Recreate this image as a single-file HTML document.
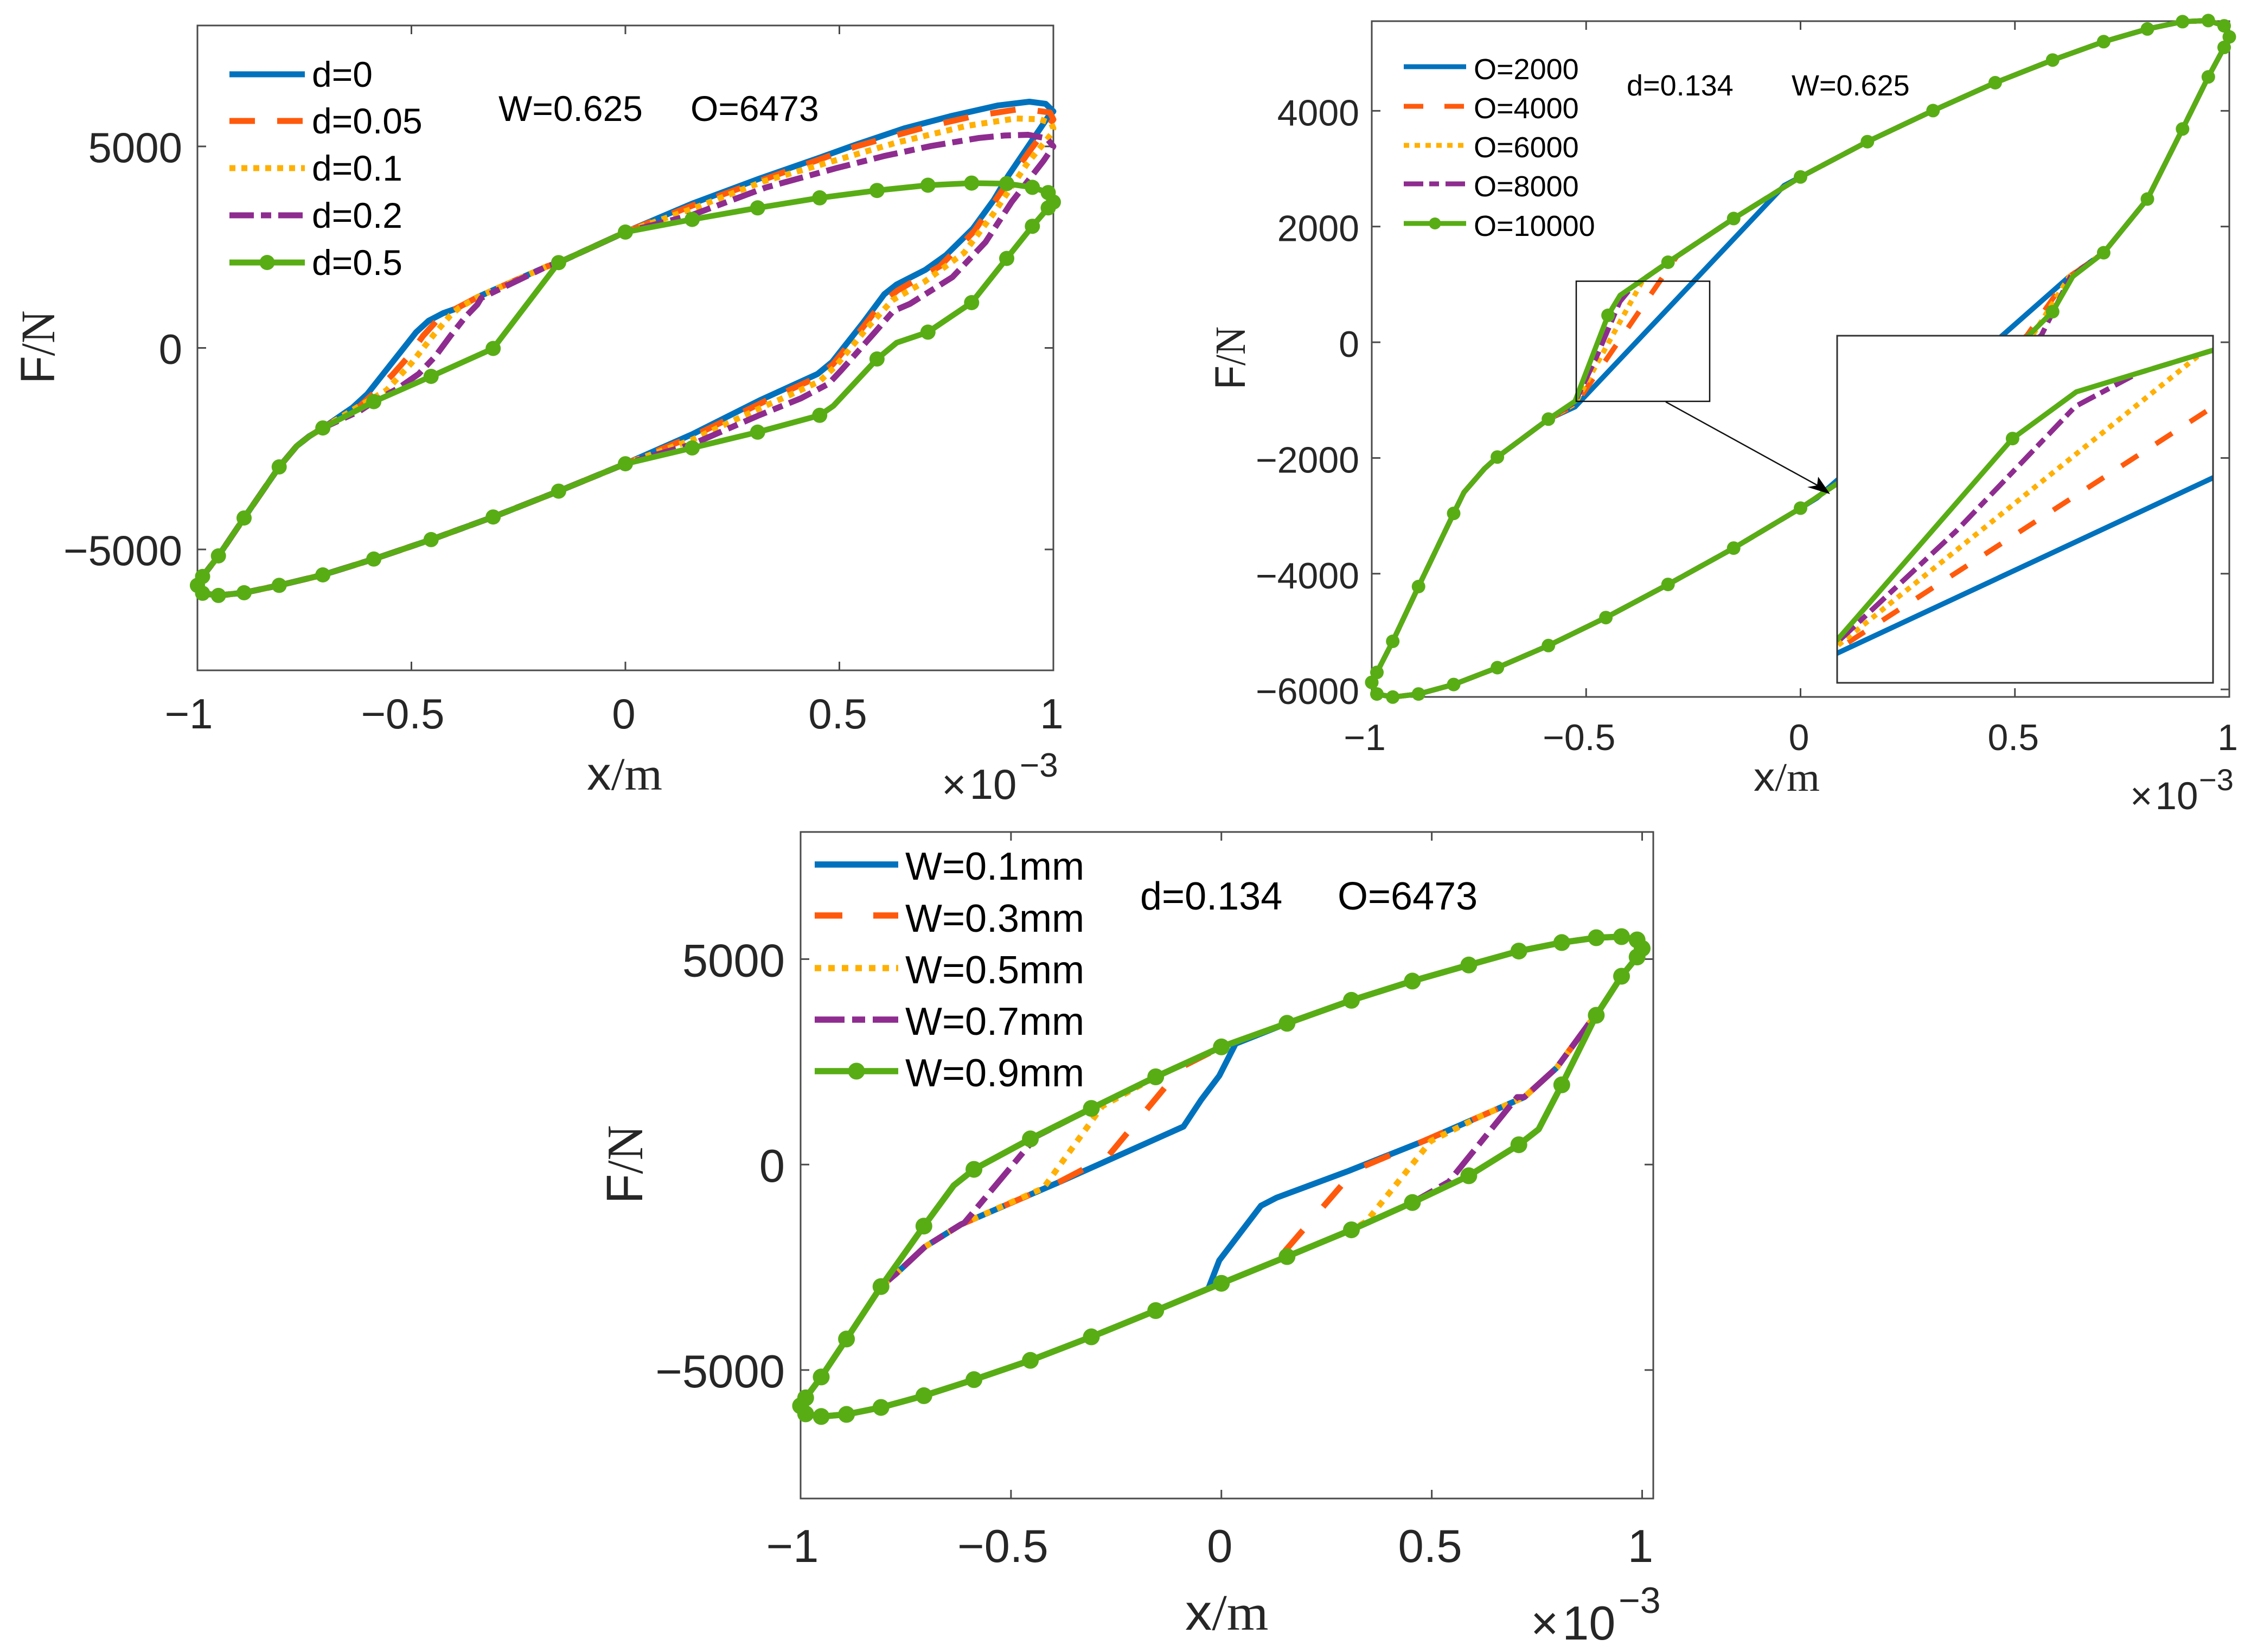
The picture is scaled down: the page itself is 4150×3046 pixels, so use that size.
<!DOCTYPE html>
<html>
<head>
<meta charset="utf-8">
<title>Hysteresis curves F/N vs x/m</title>
<style>
html,body{margin:0;padding:0;background:#fff}
svg{display:block}
text{font-family:"Liberation Sans",sans-serif}
.s{font-family:"Liberation Serif",serif}
</style>
</head>
<body>
<svg id="fig" xmlns="http://www.w3.org/2000/svg" width="4150" height="3046" viewBox="0 0 4150 3046">
<rect width="4150" height="3046" fill="#fff"/>
<g id="chartA"></g>
<g id="chartB"></g>
<g id="chartC"></g>

<g fill="#262626">
  <text transform="translate(1082,1456) scale(1.04,1)" font-size="86">x<tspan class="s">/m</tspan></text>
  <text transform="translate(100,640) rotate(-90) scale(1,1.06)" font-size="84" text-anchor="middle">F<tspan class="s">/N</tspan></text>
  <text x="1736" y="1473" font-size="78">×<tspan dx="6">10</tspan></text>
  <text x="1880" y="1432" font-size="62">−3</text>
</g>
<g fill="#000">
  <text x="919" y="223" font-size="66">W=0.625</text>
  <text x="1273" y="223" font-size="66">O=6473</text>
</g>
<g fill="#000" font-size="66">
  <text x="575" y="160">d=0</text>
  <text x="575" y="246">d=0.05</text>
  <text x="575" y="333">d=0.1</text>
  <text x="575" y="420">d=0.2</text>
  <text x="575" y="507">d=0.5</text>
</g>

<g fill="#262626">
  <text transform="translate(3233,1458) scale(1.06,1)" font-size="74">x<tspan class="s">/m</tspan></text>
  <text transform="translate(2295,660) rotate(-90) scale(1,1.1)" font-size="72" text-anchor="middle">F<tspan class="s">/N</tspan></text>
  <text x="3927" y="1492" font-size="71">×<tspan dx="5">10</tspan></text>
  <text x="4054" y="1457" font-size="56">−3</text>
</g>
<g fill="#000">
  <text x="2999" y="176" font-size="54">d=0.134</text>
  <text x="3303" y="176" font-size="54">W=0.625</text>
</g>
<g fill="#000" font-size="54">
  <text x="2717" y="146">O=2000</text>
  <text x="2717" y="218">O=4000</text>
  <text x="2717" y="290">O=6000</text>
  <text x="2717" y="362">O=8000</text>
  <text x="2717" y="435">O=10000</text>
</g>

<g fill="#262626">
  <text transform="translate(2185,3005) scale(1.05,1)" font-size="94">x<tspan class="s">/m</tspan></text>
  <text transform="translate(1184,2147) rotate(-90) scale(1,1.05)" font-size="90" text-anchor="middle">F<tspan class="s">/N</tspan></text>
  <text x="2822" y="3023" font-size="88">×<tspan dx="7">10</tspan></text>
  <text x="2984" y="2974" font-size="68">−3</text>
</g>
<g fill="#000">
  <text x="2102" y="1677" font-size="72">d=0.134</text>
  <text x="2466" y="1677" font-size="72">O=6473</text>
</g>
<g fill="#000" font-size="72">
  <text x="1669" y="1622">W=0.1mm</text>
  <text x="1669" y="1718">W=0.3mm</text>
  <text x="1669" y="1813">W=0.5mm</text>
  <text x="1669" y="1908">W=0.7mm</text>
  <text x="1669" y="2003">W=0.9mm</text>
</g>
</svg>

<script>
/* ---------- shared tick values ---------- */
const xTicks = [-1, -0.5, 0, 0.5, 1];
const xTickLabels = ["−1", "−0.5", "0", "0.5", "1"];
const yTicksAC = [-5000, 0, 5000];
const yTickLabelsAC = ["−5000", "0", "5000"];
const yTicksB = [-6000, -4000, -2000, 0, 2000, 4000];
const yTickLabelsB = ["−6000", "−4000", "−2000", "0", "2000", "4000"];

/* ---------- chart A: d sweep ---------- */
const xA_d5 = [-1,-0.988,-0.951,-0.891,-0.809,-0.768,-0.739,-0.707,-0.588,-0.454,-0.309,-0.156,0,0.156,0.309,0.454,0.588,0.707,0.809,0.891,0.951,0.988,1,0.988,0.951,0.891,0.809,0.707,0.634,0.588,0.486,0.454,0.309,0.156,0,-0.156,-0.309,-0.454,-0.588,-0.707,-0.809,-0.891,-0.951,-0.988,-1];
const yA_d5 = [-5892,-5670,-5161,-4220,-2953,-2436,-2194,-1986,-1333,-706,-13,2117,2874,3188,3475,3724,3906,4037,4089,4076,3985,3854,3619,3475,3018,2221,1124,392,130,-274,-1437,-1672,-2090,-2482,-2874,-3554,-4194,-4756,-5239,-5631,-5892,-6075,-6141,-6088,-5892];
const bendsA = [5, 6, 28, 30];

const xA_d0 = [...xA_d5.slice(0,8), -0.6375,-0.603,-0.561,-0.523,-0.489,-0.46,-0.426,-0.397,-0.342,-0.184, ...xA_d5.slice(11,13), 0.156,0.313,0.454,0.536,0.653,0.759,0.871,0.944,0.982,1,0.987,0.895,0.861,0.812,0.749,0.701,0.634,0.605,0.555,0.483,0.449,0.313,0.156, ...xA_d5.slice(34)];
const yA_d0 = [...yA_d5.slice(0,8), -1480,-1144,-579,-68,390,673,861,969,1279,2019, ...yA_d5.slice(11,13), 3580,4200,4720,5034,5451,5747,6016,6110,6057,5868,5720,4280,3674,2961,2301,1938,1575,1332,619,-350,-646,-1305,-2143, ...yA_d5.slice(34)];

const xA_d05 = [...xA_d5.slice(0,8), -0.62,-0.59,-0.545,-0.507,-0.473,-0.435,-0.397,-0.342,-0.184, ...xA_d5.slice(11,13), 0.156,0.374,0.539,0.701,0.812,0.926,0.992,1,0.944,0.881,0.815,0.735,0.636,0.597,0.558,0.485,0.446,0.34,0.156, ...xA_d5.slice(34)];
const yA_d05 = [...yA_d5.slice(0,8), -1440,-1144,-673,-215,296,740,969,1279,2019, ...yA_d5.slice(11,13), 3530,4374,5000,5478,5747,5935,5841,5666,4879,3917,2894,2026,1427,1090,552,-404,-740,-1252,-2200, ...yA_d5.slice(34)];

const xA_d1 = [...xA_d5.slice(0,8), -0.62,-0.558,-0.5,-0.447,-0.409,-0.388,-0.342,-0.184, ...xA_d5.slice(11,13), 0.156,0.323,0.466,0.631,0.798,0.913,0.968,0.995,1,0.995,0.939,0.859,0.791,0.698,0.624,0.565,0.4925,0.454,0.374,0.323,0.156, ...xA_d5.slice(34)];
const yA_d1 = [...yA_d5.slice(0,8), -1430,-1050,-377,336,808,996,1279,2019, ...yA_d5.slice(11,13), 3450,4132,4576,5087,5510,5693,5673,5572,5450,5303,4576,3318,2355,1635,1184,498,-437,-828,-1218,-1454,-2280, ...yA_d5.slice(34)];

const xA_d2 = [...xA_d5.slice(0,8), -0.62,-0.588,-0.532,-0.483,-0.4436,-0.409,-0.374,-0.346,-0.337,-0.184, ...xA_d5.slice(11,13), 0.156,0.3276,0.4925,0.604,0.7156,0.827,0.8855,0.941,0.985,1,0.977,0.9024,0.8415,0.764,0.665,0.626,0.582,0.504,0.475,0.41,0.313,0.156, ...xA_d5.slice(34)];
const yA_d2 = [...yA_d5.slice(0,8), -1560,-1333,-1009,-646,-202,296,767,1077,1238,2019, ...yA_d5.slice(11,13), 3300,3979,4459,4759,5012,5210,5270,5289,5198,5000,4643,3620,2624,1755,1094,915,377,-558,-888,-1252,-1669,-2390, ...yA_d5.slice(34)];

/* ---------- chart B: O sweep ---------- */
const xB_10000 = [-1,-0.988,-0.951,-0.891,-0.809,-0.785,-0.737,-0.707,-0.588,-0.526,-0.449,-0.421,-0.309,-0.156,0,0.156,0.309,0.454,0.588,0.707,0.809,0.891,0.951,0.988,1,0.988,0.951,0.891,0.809,0.707,0.635,0.588,0.454,0.309,0.156,0,-0.156,-0.309,-0.454,-0.588,-0.707,-0.809,-0.891,-0.951,-0.988,-1];
const yB_10000 = [-5879,-5706,-5169,-4222,-2958,-2594,-2184,-1984,-1329,-1019,466,810,1383,2139,2857,3467,4004,4486,4878,5196,5415,5542,5560,5469,5278,5096,4586,3686,2475,1547,1137,528,-455,-1274,-2093,-2867,-3558,-4186,-4759,-5242,-5624,-5915,-6079,-6133,-6079,-5879];
const bendsB = [5, 6, 9, 11, 30];

const xB_2000 = [...xB_10000.slice(0,9), -0.526,-0.0377, ...xB_10000.slice(14,30), 0.627,0.471,0.0377, ...xB_10000.slice(35)];
const yB_2000 = [...yB_10000.slice(0,9), -1117,2712, ...yB_10000.slice(14,30), 1137,118,-2694, ...yB_10000.slice(35)];

const xB_4000 = [...xB_10000.slice(0,9), -0.526,-0.2887, ...xB_10000.slice(13,30), 0.622,0.528, ...xB_10000.slice(34)];
const yB_4000 = [...yB_10000.slice(0,9), -1090,1483, ...yB_10000.slice(13,30), 1110,118, ...yB_10000.slice(34)];

const xB_6000 = [...xB_10000.slice(0,9), -0.526,-0.3665, ...xB_10000.slice(12,30), 0.627,0.541, ...xB_10000.slice(34)];
const yB_6000 = [...yB_10000.slice(0,9), -1064,1089, ...yB_10000.slice(12,30), 1137,118, ...yB_10000.slice(34)];

const xB_8000 = [...xB_10000.slice(0,9), -0.526,-0.4738,-0.4214,-0.394, ...xB_10000.slice(12,30), 0.63,0.5615, ...xB_10000.slice(34)];
const yB_8000 = [...yB_10000.slice(0,9), -1037,-217,703,948, ...yB_10000.slice(12,30), 1137,118, ...yB_10000.slice(34)];

/* ---------- chart C: W sweep ---------- */
const xC_9 = [-1,-0.988,-0.951,-0.891,-0.809,-0.707,-0.636,-0.588,-0.454,-0.309,-0.156,0,0.156,0.309,0.454,0.588,0.707,0.809,0.891,0.951,0.988,1,0.988,0.951,0.891,0.809,0.754,0.707,0.588,0.454,0.309,0.156,0,-0.156,-0.309,-0.454,-0.588,-0.707,-0.809,-0.891,-0.951,-0.988,-1];
const yC_9 = [-5872,-5677,-5169,-4245,-2969,-1497,-508,-117,625,1367,2135,2864,3437,3997,4466,4856,5195,5403,5520,5547,5468,5260,5052,4583,3633,1940,859,482,-273,-924,-1588,-2239,-2890,-3554,-4192,-4765,-5234,-5625,-5911,-6080,-6132,-6067,-5872];
const bendsC = [6, 26];

const xC_1 = [...xC_9.slice(0,5), -0.773,-0.705,-0.619,-0.389,-0.09,-0.048,-0.005,0.034, ...xC_9.slice(12,25), 0.874,0.797,0.72,0.618,0.481,0.302,0.131,0.094,-0.005,-0.031, ...xC_9.slice(33)];
const yC_1 = [...yC_9.slice(0,5), -2656,-2005,-1458,-443,924,1575,2161,2943, ...yC_9.slice(12,25), 3437,2357,1641,1185,573,-156,-807,-1003,-2331,-3020, ...yC_9.slice(33)];

const xC_3 = [...xC_9.slice(0,5), -0.773,-0.705,-0.619,-0.389,-0.27,-0.108,-0.09, ...xC_9.slice(11,25), 0.874,0.797,0.72,0.618,0.481,0.336,0.302,0.131, ...xC_9.slice(32)];
const yC_3 = [...yC_9.slice(0,5), -2656,-2005,-1458,-443,195,2200,2396, ...yC_9.slice(11,25), 3437,2357,1641,1185,573,-52,-312,-2343, ...yC_9.slice(32)];

const xC_5 = [...xC_9.slice(0,5), -0.773,-0.705,-0.619,-0.423,-0.295,-0.283, ...xC_9.slice(10,25), 0.874,0.797,0.72,0.618,0.498,0.345,0.328, ...xC_9.slice(30)];
const yC_5 = [...yC_9.slice(0,5), -2656,-2005,-1458,-573,1250,1419, ...yC_9.slice(10,25), 3437,2357,1641,1185,573,-1380,-1484, ...yC_9.slice(30)];

const xC_7 = [...xC_9.slice(0,5), -0.773,-0.705,-0.619,-0.611,-0.457,-0.449, ...xC_9.slice(9,25), 0.874,0.797,0.72,0.703,0.549,0.541, ...xC_9.slice(29)];
const yC_7 = [...yC_9.slice(0,5), -2656,-2005,-1458,-1419,469,638, ...yC_9.slice(9,25), 3437,2357,1641,1641,-312,-417, ...yC_9.slice(29)];

/* ---------- drawing ---------- */
const NS = "http://www.w3.org/2000/svg";
const COL = {blue:"#0072BD", orange:"#FF5A0C", yellow:"#FFB000", purple:"#8E2C90", green:"#58AD15"};

function el(parent, tag, attrs) {
  const e = document.createElementNS(NS, tag);
  for (const k in attrs) e.setAttribute(k, attrs[k]);
  parent.appendChild(e);
  return e;
}

function makeScale(d0, d1, p0, p1) {
  return v => p0 + (v - d0) / (d1 - d0) * (p1 - p0);
}

function drawSeries(parent, xs, ys, sx, sy, color, width, dash, name, bends, markerR) {
  const pts = xs.map((v, i) => sx(v).toFixed(1) + "," + sy(ys[i]).toFixed(1)).join(" ");
  const line = el(parent, "polyline", {points: pts, fill: "none", stroke: color, "stroke-width": width, "stroke-linejoin": "round"});
  
  
  if (dash) line.setAttribute("stroke-dasharray", dash);
  if (markerR) {
    xs.forEach((v, i) => {
      if (bends.includes(i)) return;
      const c = el(parent, "circle", {cx: sx(v).toFixed(1), cy: sy(ys[i]).toFixed(1), r: markerR, fill: color});
      
      
    });
  }
}

function drawAxes(g, box, sx, sy, yTicks, yLabels, opt) {
  const ax = "#4a4a4a";
  yTicks.forEach((v, i) => {
    const y = sy(v);
    const t1 = el(g, "line", {x1: box.l, x2: box.l + 16, y1: y, y2: y, stroke: ax, "stroke-width": 3});
    
    
    const t2 = el(g, "line", {x1: box.r, x2: box.r - 16, y1: y, y2: y, stroke: ax, "stroke-width": 3});
    
    
    const tx = el(g, "text", {x: opt.yRight, y: y + opt.yBase, "font-size": opt.size, "text-anchor": "end", fill: "#262626"});
    tx.textContent = yLabels[i];
    
    
  });
  xTicks.forEach((v, i) => {
    const x = sx(v);
    const t1 = el(g, "line", {x1: x, x2: x, y1: box.b, y2: box.b - 16, stroke: ax, "stroke-width": 3});
    
    
    const t2 = el(g, "line", {x1: x, x2: x, y1: box.t, y2: box.t + 16, stroke: ax, "stroke-width": 3});
    
    
    const shift = v < 0 ? opt.negShift : -3;
    const tx = el(g, "text", {x: x + shift, y: opt.xBase, "font-size": opt.size, "text-anchor": "middle", fill: "#262626"});
    tx.textContent = xTickLabels[i];
    
    
  });
  const r = el(g, "rect", {x: box.l, y: box.t, width: box.r - box.l, height: box.b - box.t, fill: "none", stroke: ax, "stroke-width": 3});
  
  
}

function drawLegend(g, x0, x1, ys, styles, width, markerR, names) {
  styles.forEach((s, i) => {
    const l = el(g, "line", {x1: x0, x2: x1, y1: ys[i], y2: ys[i], stroke: s.color, "stroke-width": width});
    if (s.dash) l.setAttribute("stroke-dasharray", s.dash);
    
    
    if (s.marker) {
      const c = el(g, "circle", {cx: (x0 + x1) / 2, cy: ys[i], r: markerR, fill: s.color});
      
      
    }
  });
}

/* chart A */
(function () {
  const g = document.getElementById("chartA");
  const box = {l: 364, r: 1942, t: 47, b: 1236};
  const sx = makeScale(-1, 1, box.l, box.r), sy = makeScale(-8000, 8000, box.b, box.t);
  drawAxes(g, box, sx, sy, yTicksAC, yTickLabelsAC, {yRight: 336, yBase: 29, size: 78, xBase: 1343, negShift: -16});
  const d = {o: "47 41", y: "11 11", p: "45 13 19 13"};
  drawSeries(g, xA_d0, yA_d0, sx, sy, COL.blue, 11, null, "series-d-0", [], 0);
  drawSeries(g, xA_d05, yA_d05, sx, sy, COL.orange, 11, d.o, "series-d-0.05", [], 0);
  drawSeries(g, xA_d1, yA_d1, sx, sy, COL.yellow, 11, d.y, "series-d-0.1", [], 0);
  drawSeries(g, xA_d2, yA_d2, sx, sy, COL.purple, 11, d.p, "series-d-0.2", [], 0);
  drawSeries(g, xA_d5, yA_d5, sx, sy, COL.green, 10.5, null, "series-d-0.5", bendsA, 14);
  drawLegend(g, 423, 562, [137, 223, 310, 397, 484], [
    {color: COL.blue}, {color: COL.orange, dash: d.o}, {color: COL.yellow, dash: d.y},
    {color: COL.purple, dash: d.p}, {color: COL.green, marker: true}], 11, 14, ["d0", "d005", "d01", "d02", "d05"]);
})();

/* chart B */
(function () {
  const g = document.getElementById("chartB");
  const box = {l: 2529, r: 4110, t: 39, b: 1285};
  const sx = makeScale(-1, 1, box.l, box.r), sy = makeScale(-6130, 5550, box.b, box.t);
  drawAxes(g, box, sx, sy, yTicksB, yTickLabelsB, {yRight: 2506, yBase: 27, size: 68, xBase: 1383, negShift: -13});
  const d = {o: "36 39", y: "10 10", p: "36 11 18 12"};
  drawSeries(g, xB_2000, yB_2000, sx, sy, COL.blue, 9.5, null, "series-o-2000", [], 0);
  drawSeries(g, xB_4000, yB_4000, sx, sy, COL.orange, 9.5, d.o, "series-o-4000", [], 0);
  drawSeries(g, xB_6000, yB_6000, sx, sy, COL.yellow, 9.5, d.y, "series-o-6000", [], 0);
  drawSeries(g, xB_8000, yB_8000, sx, sy, COL.purple, 9.5, d.p, "series-o-8000", [], 0);
  drawSeries(g, xB_10000, yB_10000, sx, sy, COL.green, 9.5, null, "series-o-10000", bendsB, 12.5);
  drawLegend(g, 2588, 2703, [123, 196, 268, 339, 412], [
    {color: COL.blue}, {color: COL.orange, dash: "36 39"}, {color: COL.yellow, dash: d.y},
    {color: COL.purple, dash: d.p}, {color: COL.green, marker: true}], 9, 11, ["o2000", "o4000", "o6000", "o8000", "o10000"]);

  /* source box and leader */
  const src = el(g, "rect", {x: 2906, y: 518.5, width: 246, height: 221.5, fill: "none", stroke: "#111", "stroke-width": 2.5});
  
  
  const lead = el(g, "line", {x1: 3071, y1: 741, x2: 3360, y2: 900, stroke: "#111", "stroke-width": 2.5});
  
  
  const head = el(g, "polygon", {points: "3374,911 3332,898 3350,895 3352,879", fill: "#000"});
  
  

  /* inset */
  const ib = {l: 3387, r: 4080, t: 619, b: 1259};
  const bg = el(g, "rect", {x: ib.l, y: ib.t, width: ib.r - ib.l, height: ib.b - ib.t, fill: "#fff"});
  
  
  const defs = el(g, "defs", {});
  const cp = el(defs, "clipPath", {id: "insetClip"});
  el(cp, "rect", {x: ib.l, y: ib.t, width: ib.r - ib.l, height: ib.b - ib.t});
  const ig = el(g, "g", {"clip-path": "url(#insetClip)"});
  
  
  const isx = makeScale(-0.526, -0.361, ib.l, ib.r), isy = makeScale(-1335, 1224, ib.b, ib.t);
  drawSeries(ig, xB_2000, yB_2000, isx, isy, COL.blue, 9.5, null, "inset-series-o-2000", [], 0);
  drawSeries(ig, xB_4000, yB_4000, isx, isy, COL.orange, 9.5, d.o, "inset-series-o-4000", [], 0);
  drawSeries(ig, xB_6000, yB_6000, isx, isy, COL.yellow, 9.5, d.y, "inset-series-o-6000", [], 0);
  drawSeries(ig, xB_8000, yB_8000, isx, isy, COL.purple, 9.5, d.p, "inset-series-o-8000", [], 0);
  drawSeries(ig, xB_10000, yB_10000, isx, isy, COL.green, 9.5, null, "inset-series-o-10000", bendsB, 12.5);
  const ibr = el(g, "rect", {x: ib.l, y: ib.t, width: ib.r - ib.l, height: ib.b - ib.t, fill: "none", stroke: "#333", "stroke-width": 3});
  
  
})();

/* chart C */
(function () {
  const g = document.getElementById("chartC");
  const box = {l: 1476, r: 3048, t: 1534, b: 2763};
  const sx = makeScale(-1, 1, box.l, 3027.5), sy = makeScale(-8127, 8094, box.b, box.t);
  drawAxes(g, box, sx, sy, yTicksAC, yTickLabelsAC, {yRight: 1447, yBase: 32, size: 85, xBase: 2880, negShift: -15});
  const d = {o: "51 57", y: "12 13", p: "55 14 24 14"};
  drawSeries(g, xC_1, yC_1, sx, sy, COL.blue, 11, null, "series-w-0.1", [], 0);
  drawSeries(g, xC_3, yC_3, sx, sy, COL.orange, 11, d.o, "series-w-0.3", [], 0);
  drawSeries(g, xC_5, yC_5, sx, sy, COL.yellow, 11, d.y, "series-w-0.5", [], 0);
  drawSeries(g, xC_7, yC_7, sx, sy, COL.purple, 11, d.p, "series-w-0.7", [], 0);
  drawSeries(g, xC_9, yC_9, sx, sy, COL.green, 11.5, null, "series-w-0.9", bendsC, 15.5);
  drawLegend(g, 1502, 1656, [1594, 1688, 1785, 1880, 1975], [
    {color: COL.blue}, {color: COL.orange, dash: d.o}, {color: COL.yellow, dash: d.y},
    {color: COL.purple, dash: d.p}, {color: COL.green, marker: true}], 11.5, 15.5, ["w01", "w03", "w05", "w07", "w09"]);
})();
</script>
</body>
</html>
